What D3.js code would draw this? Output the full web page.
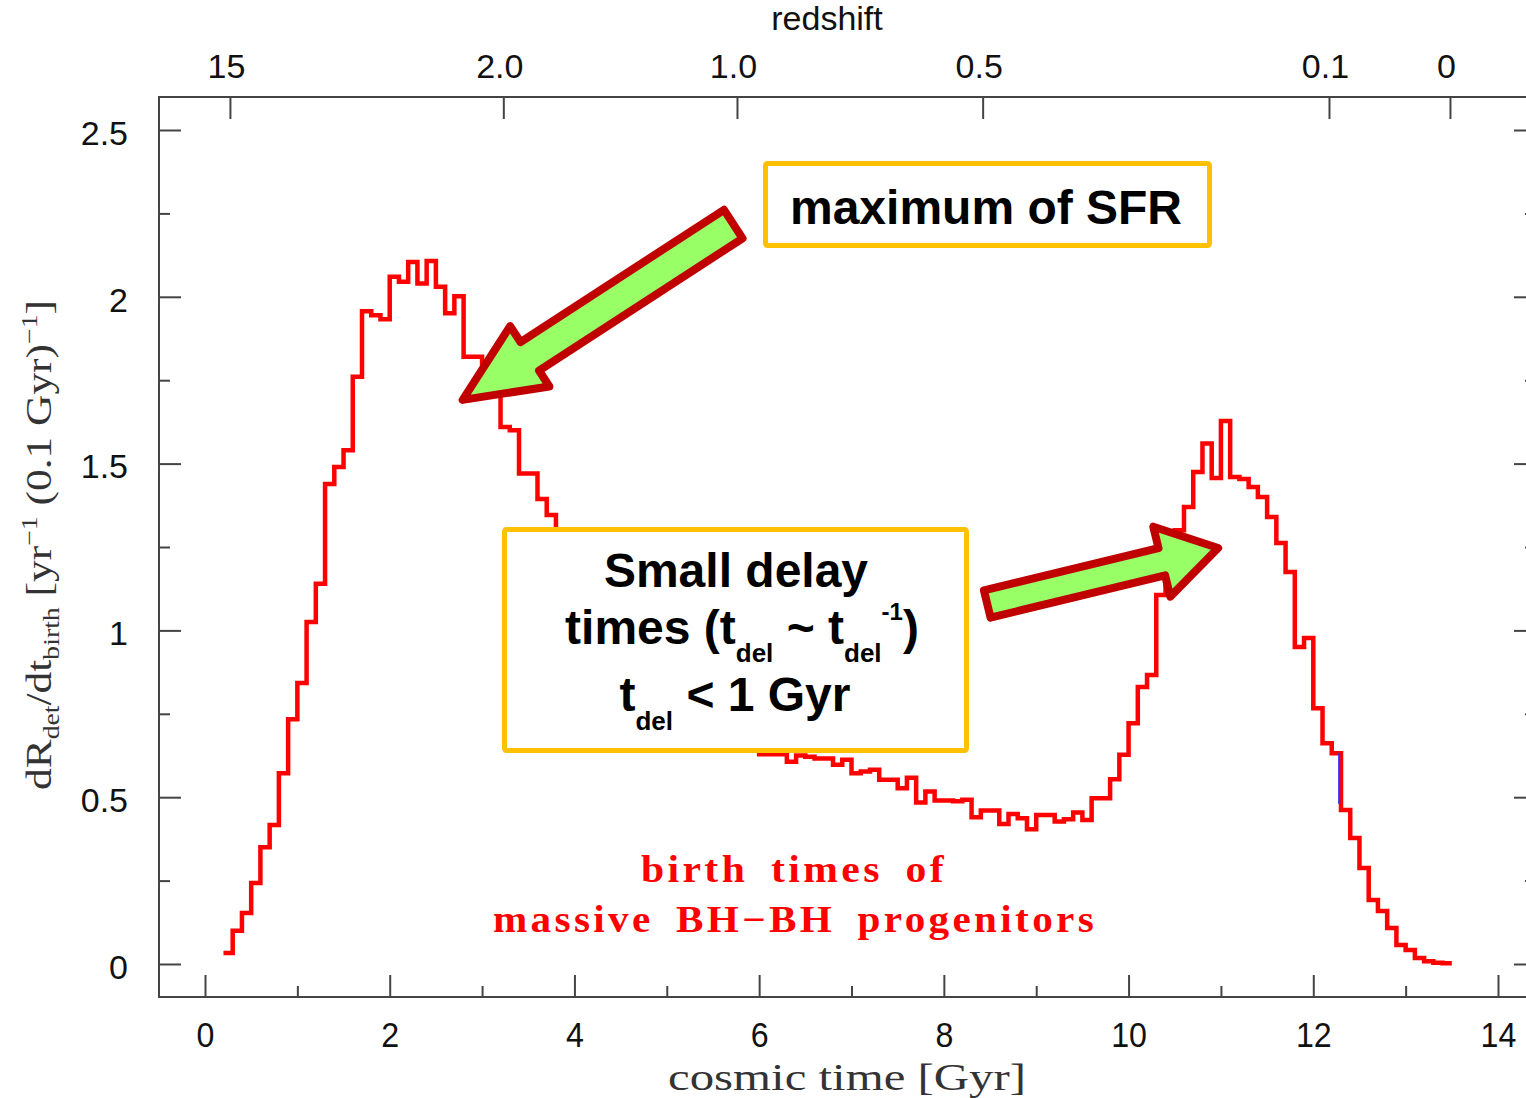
<!DOCTYPE html>
<html>
<head>
<meta charset="utf-8">
<script src="https://cdn.jsdelivr.net/npm/d3@7"></script>
<style>
  body { margin: 0; background: #fff; }
  svg { display: block; }
</style>
</head>
<body>
<script>
// histogram of birth times, 0.1 Gyr bins starting at 0.2 Gyr
var binStart = 0.2,
    binWidth = 0.1;

var rates = [
  0.033, 0.10, 0.153, 0.243, 0.35, 0.417, 0.572, 0.734, 0.842, 1.025,
  1.14, 1.439, 1.49, 1.54, 1.76, 1.957, 1.945, 1.933, 2.06, 2.045,
  2.104, 2.04, 2.107, 2.03, 1.951, 2.002, 1.82, 1.82, 1.80, 1.72,
  1.61, 1.60, 1.47, 1.47, 1.394, 1.346, 1.29, 1.25, 1.21, 1.17,
  1.12, 1.08, 1.05, 1.01, 0.97, 0.94, 0.91, 0.88, 0.85, 0.82,
  0.80, 0.77, 0.75, 0.73, 0.71, 0.69, 0.67, 0.65, 0.629, 0.629,
  0.629, 0.606, 0.625, 0.621, 0.616, 0.616, 0.597, 0.612, 0.572, 0.577,
  0.582, 0.552, 0.552, 0.527, 0.558, 0.484, 0.517, 0.49, 0.49, 0.488,
  0.492, 0.44, 0.46, 0.46, 0.42, 0.45, 0.437, 0.404, 0.447, 0.447,
  0.427, 0.434, 0.454, 0.432, 0.497, 0.497, 0.554, 0.627, 0.722, 0.83,
  0.866, 1.106, 1.15, 1.30, 1.37, 1.475, 1.56, 1.457, 1.628, 1.46,
  1.454, 1.43, 1.40, 1.34, 1.262, 1.175, 0.95, 0.977, 0.767, 0.662,
  0.632, 0.462, 0.378, 0.288, 0.192, 0.159, 0.108, 0.057, 0.042, 0.018,
  0.008, 0.004, 0.002
];

// little blue piece of a second histogram peeking out near 12.3 Gyr
var blueTime = [12.28, 12.28];
var blueRate = [0.632, 0.48];

var xTicks = [0, 2, 4, 6, 8, 10, 12, 14];
var xMinor = [1, 3, 5, 7, 9, 11, 13];
var yTicks = [0, 0.5, 1, 1.5, 2, 2.5];
var yMinor = [0.25, 0.75, 1.25, 1.75, 2.25];

var zLabels = ["15", "2.0", "1.0", "0.5", "0.1", "0"];
var zTimes = [0.27, 3.23, 5.76, 8.42, 12.17, 13.48];

var width = 1526,
    height = 1098;

var frame = {left: 159, right: 1536, top: 97, bottom: 997};

var x = d3.scaleLinear().domain([0, 14]).range([205, 1498]);
var y = d3.scaleLinear().domain([0, 2.5]).range([964, 130]);

var axisColor = "#444";

var svg = d3.select("body").append("svg")
    .attr("width", width)
    .attr("height", height);

svg.append("rect")
    .attr("x", frame.left)
    .attr("y", frame.top)
    .attr("width", frame.right - frame.left)
    .attr("height", frame.bottom - frame.top)
    .attr("fill", "none")
    .attr("stroke", axisColor)
    .attr("stroke-width", 2);

function styleAxis(g) {
  g.select(".domain").remove();
  g.selectAll(".tick line").attr("stroke", axisColor).attr("stroke-width", 2);
  g.attr("font-family", "'Liberation Sans', Arial, sans-serif");
}

// left axis
svg.append("g")
    .attr("transform", "translate(" + frame.left + ",0)")
    .call(d3.axisLeft(y).tickValues(yTicks).tickSize(-22).tickPadding(31).tickFormat(d3.format("")))
    .call(styleAxis)
    .call(function(g) {
      g.selectAll("text").attr("font-size", 34).attr("fill", "#111").attr("dy", "0.42em");
    });
svg.append("g")
    .attr("transform", "translate(" + frame.left + ",0)")
    .call(d3.axisLeft(y).tickValues(yMinor).tickSize(-11).tickFormat(""))
    .call(styleAxis);

// right axis (ticks only)
svg.append("g")
    .attr("transform", "translate(" + frame.right + ",0)")
    .call(d3.axisRight(y).tickValues(yTicks).tickSize(-22).tickFormat(""))
    .call(styleAxis);
svg.append("g")
    .attr("transform", "translate(" + frame.right + ",0)")
    .call(d3.axisRight(y).tickValues(yMinor).tickSize(-11).tickFormat(""))
    .call(styleAxis);

// bottom axis
svg.append("g")
    .attr("transform", "translate(0," + frame.bottom + ")")
    .call(d3.axisBottom(x).tickValues(xTicks).tickSize(-22).tickPadding(25).tickFormat(d3.format("d")))
    .call(styleAxis)
    .call(function(g) {
      g.selectAll("text").attr("font-size", 35).attr("fill", "#111")
        .attr("transform", "scale(0.92,1)");
    });
svg.append("g")
    .attr("transform", "translate(0," + frame.bottom + ")")
    .call(d3.axisBottom(x).tickValues(xMinor).tickSize(-11).tickFormat(""))
    .call(styleAxis);

// top redshift axis
svg.append("g")
    .attr("transform", "translate(0," + frame.top + ")")
    .call(d3.axisTop(x).tickValues(zTimes).tickSize(-22).tickPadding(19)
      .tickFormat(function(d, i) { return zLabels[i]; }))
    .call(styleAxis)
    .call(function(g) {
      g.selectAll("text").attr("font-size", 34).attr("fill", "#111").attr("dx", -4);
    });

svg.append("text")
    .attr("x", 827)
    .attr("y", 30)
    .attr("text-anchor", "middle")
    .attr("font-family", "'Liberation Sans', Arial, sans-serif")
    .attr("font-size", 34)
    .attr("fill", "#111")
    .text("redshift");

// x label
svg.append("text")
    .attr("x", 847)
    .attr("y", 1090)
    .attr("text-anchor", "middle")
    .attr("font-family", "'Liberation Serif', 'DejaVu Serif', serif")
    .attr("font-size", 37)
    .attr("fill", "#333")
    .attr("textLength", 358)
    .attr("lengthAdjust", "spacingAndGlyphs")
    .text("cosmic time [Gyr]");

// y label
var yLabel = svg.append("text")
    .attr("transform", "translate(51,545) rotate(-90)")
    .attr("text-anchor", "middle")
    .attr("font-family", "'Liberation Serif', 'DejaVu Serif', serif")
    .attr("font-size", 36)
    .attr("fill", "#333")
    .attr("textLength", 490)
    .attr("lengthAdjust", "spacingAndGlyphs");
yLabel.append("tspan").text("dR");
yLabel.append("tspan").attr("font-size", 23).attr("dy", 8).text("det");
yLabel.append("tspan").attr("dy", -8).text("/dt");
yLabel.append("tspan").attr("font-size", 23).attr("dy", 8).text("birth");
yLabel.append("tspan").attr("dy", -8).text("  [yr");
yLabel.append("tspan").attr("font-size", 23).attr("dy", -14).text("\u22121");
yLabel.append("tspan").attr("dy", 14).text("  (0.1  Gyr)");
yLabel.append("tspan").attr("font-size", 23).attr("dy", -14).text("\u22121");
yLabel.append("tspan").attr("dy", 14).text("]");

// histogram
var steps = rates.map(function(r, i) { return [binStart + i * binWidth, r]; });
steps.push([binStart + rates.length * binWidth, rates[rates.length - 1]]);

var line = d3.line()
    .x(function(d) { return x(d[0]); })
    .y(function(d) { return y(d[1]); })
    .curve(d3.curveStepAfter);

svg.append("path")
    .datum(steps)
    .attr("d", line)
    .attr("fill", "none")
    .attr("stroke", "#ff0000")
    .attr("stroke-width", 4.5)
    .attr("stroke-linejoin", "miter");

svg.append("path")
    .datum(blueTime.map(function(t, i) { return [t, blueRate[i]]; }))
    .attr("d", d3.line().x(function(d) { return x(d[0]); }).y(function(d) { return y(d[1]); }))
    .attr("stroke", "#3030ff")
    .attr("stroke-width", 2);

// red caption
var caption = svg.append("g")
    .attr("font-family", "'Liberation Serif', 'DejaVu Serif', serif")
    .attr("font-weight", "bold")
    .attr("font-size", 37)
    .attr("letter-spacing", 3)
    .attr("word-spacing", 8)
    .attr("fill", "#ff0000")
    .attr("text-anchor", "middle");
caption.append("text").attr("x", 794).attr("y", 882)
    .attr("textLength", 306).attr("lengthAdjust", "spacingAndGlyphs")
    .text("birth times of");
caption.append("text").attr("x", 795).attr("y", 932)
    .attr("textLength", 604).attr("lengthAdjust", "spacingAndGlyphs")
    .text("massive BH\u2212BH progenitors");

// annotation boxes
var boxColor = "#ffc000",
    boxFont = "'Liberation Sans', Arial, sans-serif";

svg.append("rect")
    .attr("x", 765.5).attr("y", 163.5).attr("width", 444).attr("height", 82)
    .attr("rx", 2)
    .attr("fill", "#fff").attr("stroke", boxColor).attr("stroke-width", 5);
svg.append("text")
    .attr("x", 986).attr("y", 224)
    .attr("text-anchor", "middle")
    .attr("font-family", boxFont).attr("font-weight", "bold").attr("font-size", 48)
    .text("maximum of SFR");

svg.append("rect")
    .attr("x", 504.5).attr("y", 529.5).attr("width", 462).attr("height", 221)
    .attr("rx", 2)
    .attr("fill", "#fff").attr("stroke", boxColor).attr("stroke-width", 5);

var box2 = svg.append("g")
    .attr("font-family", boxFont).attr("font-weight", "bold").attr("font-size", 48)
    .attr("text-anchor", "middle");
box2.append("text").attr("x", 736).attr("y", 587).text("Small delay");
var l2 = box2.append("text").attr("x", 742).attr("y", 644);
l2.append("tspan").text("times (t");
l2.append("tspan").attr("font-size", 26).attr("dy", 18).text("del");
l2.append("tspan").attr("dy", -18).text(" ~ t");
l2.append("tspan").attr("font-size", 26).attr("dy", 18).text("del");
l2.append("tspan").attr("font-size", 24).attr("dy", -42).text("-1");
l2.append("tspan").attr("dy", 24).text(")");
var l3 = box2.append("text").attr("x", 735).attr("y", 711);
l3.append("tspan").text("t");
l3.append("tspan").attr("font-size", 26).attr("dy", 19).text("del");
l3.append("tspan").attr("dy", -19).text(" < 1 Gyr");

// arrows: tip and tail given in data units
var arrows = [
  {tip: [2.79, 1.691], tail: [5.72, 2.218], shaft: 17, head: 36, headLen: 80},
  {tip: [10.97, 1.247], tail: [8.47, 1.079], shaft: 14, head: 36, headLen: 58}
];

function arrowPoints(a) {
  var p = [x(a.tip[0]), y(a.tip[1])],
      q = [x(a.tail[0]), y(a.tail[1])];
  var dx = q[0] - p[0], dy = q[1] - p[1], L = Math.hypot(dx, dy);
  var ux = dx / L, uy = dy / L, nx = -uy, ny = ux;
  var bx = p[0] + ux * a.headLen, by = p[1] + uy * a.headLen;
  return [
    p,
    [bx + nx * a.head, by + ny * a.head],
    [bx + nx * a.shaft, by + ny * a.shaft],
    [q[0] + nx * a.shaft, q[1] + ny * a.shaft],
    [q[0] - nx * a.shaft, q[1] - ny * a.shaft],
    [bx - nx * a.shaft, by - ny * a.shaft],
    [bx - nx * a.head, by - ny * a.head]
  ];
}

svg.selectAll("polygon.arrow")
    .data(arrows)
  .enter().append("polygon")
    .attr("class", "arrow")
    .attr("points", function(d) { return arrowPoints(d).map(function(p) { return p.join(","); }).join(" "); })
    .attr("fill", "#99ff66")
    .attr("stroke", "#c00000")
    .attr("stroke-width", 8)
    .attr("stroke-linejoin", "round");
</script>
</body>
</html>
